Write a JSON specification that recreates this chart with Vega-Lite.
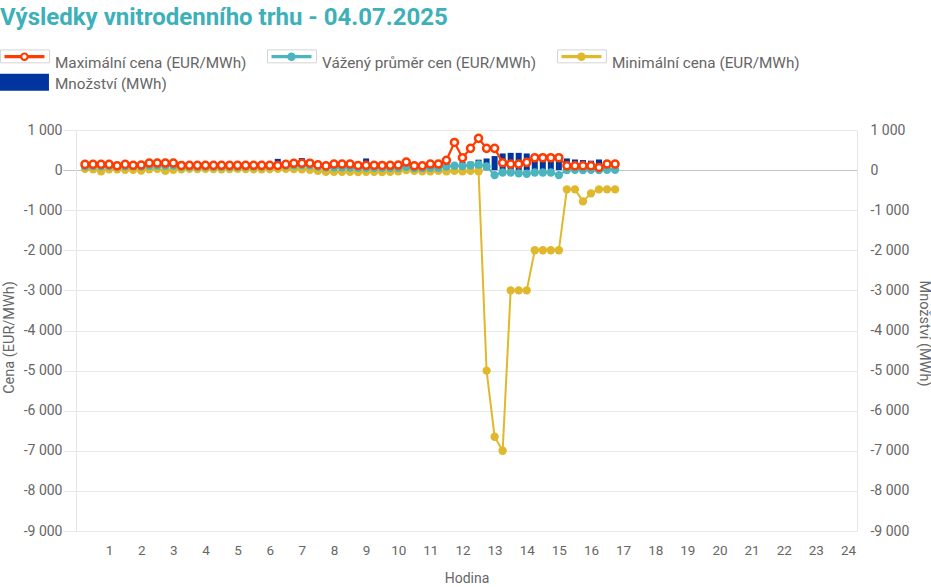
{
  "$schema": "https://vega.github.io/schema/vega-lite/v6.json",
  "width": 781,
  "height": 401,
  "autosize": {"type": "none"},
  "padding": {"left": 76, "top": 130, "right": 74, "bottom": 56},
  "background": "white",
  "title": {
    "text": "Výsledky vnitrodenního trhu - 04.07.2025",
    "anchor": "start",
    "frame": "group",
    "dx": -76,
    "offset": 24,
    "font": "Roboto",
    "fontSize": 24,
    "fontWeight": "bold",
    "color": "#3db0b9"
  },
  "config": {"view": {"stroke": null}},
  "data": {
    "values": [
      {"q": 1, "max": 142, "prumer": 95, "min": 30, "mnozstvi": 90},
      {"q": 2, "max": 145, "prumer": 100, "min": 20, "mnozstvi": 95},
      {"q": 3, "max": 145, "prumer": 95, "min": -30, "mnozstvi": 100},
      {"q": 4, "max": 142, "prumer": 100, "min": 20, "mnozstvi": 95},
      {"q": 5, "max": 108, "prumer": 90, "min": 20, "mnozstvi": 85},
      {"q": 6, "max": 142, "prumer": 95, "min": 10, "mnozstvi": 90},
      {"q": 7, "max": 120, "prumer": 95, "min": 10, "mnozstvi": 95},
      {"q": 8, "max": 125, "prumer": 90, "min": -10, "mnozstvi": 90},
      {"q": 9, "max": 175, "prumer": 110, "min": 20, "mnozstvi": 110},
      {"q": 10, "max": 175, "prumer": 115, "min": 30, "mnozstvi": 115},
      {"q": 11, "max": 175, "prumer": 110, "min": -20, "mnozstvi": 110},
      {"q": 12, "max": 175, "prumer": 115, "min": 10, "mnozstvi": 105},
      {"q": 13, "max": 115, "prumer": 85, "min": 20, "mnozstvi": 80},
      {"q": 14, "max": 120, "prumer": 85, "min": 30, "mnozstvi": 85},
      {"q": 15, "max": 118, "prumer": 85, "min": 25, "mnozstvi": 80},
      {"q": 16, "max": 120, "prumer": 90, "min": 30, "mnozstvi": 85},
      {"q": 17, "max": 118, "prumer": 85, "min": 25, "mnozstvi": 80},
      {"q": 18, "max": 120, "prumer": 85, "min": 20, "mnozstvi": 85},
      {"q": 19, "max": 118, "prumer": 85, "min": 25, "mnozstvi": 90},
      {"q": 20, "max": 118, "prumer": 85, "min": 30, "mnozstvi": 95},
      {"q": 21, "max": 120, "prumer": 90, "min": 25, "mnozstvi": 100},
      {"q": 22, "max": 120, "prumer": 90, "min": 20, "mnozstvi": 110},
      {"q": 23, "max": 118, "prumer": 90, "min": 20, "mnozstvi": 120},
      {"q": 24, "max": 120, "prumer": 95, "min": 25, "mnozstvi": 130},
      {"q": 25, "max": 115, "prumer": 100, "min": 30, "mnozstvi": 280},
      {"q": 26, "max": 142, "prumer": 110, "min": 30, "mnozstvi": 160},
      {"q": 27, "max": 170, "prumer": 120, "min": 25, "mnozstvi": 150},
      {"q": 28, "max": 172, "prumer": 125, "min": 20, "mnozstvi": 300},
      {"q": 29, "max": 172, "prumer": 120, "min": 10, "mnozstvi": 160},
      {"q": 30, "max": 130, "prumer": 90, "min": -20, "mnozstvi": 150},
      {"q": 31, "max": 105, "prumer": 70, "min": -45, "mnozstvi": 140},
      {"q": 32, "max": 150, "prumer": 70, "min": -40, "mnozstvi": 150},
      {"q": 33, "max": 150, "prumer": 70, "min": -40, "mnozstvi": 145},
      {"q": 34, "max": 150, "prumer": 65, "min": -40, "mnozstvi": 140},
      {"q": 35, "max": 115, "prumer": 60, "min": -50, "mnozstvi": 130},
      {"q": 36, "max": 120, "prumer": 60, "min": -40, "mnozstvi": 290},
      {"q": 37, "max": 120, "prumer": 55, "min": -40, "mnozstvi": 130},
      {"q": 38, "max": 115, "prumer": 55, "min": -50, "mnozstvi": 120},
      {"q": 39, "max": 120, "prumer": 55, "min": -40, "mnozstvi": 120},
      {"q": 40, "max": 125, "prumer": 60, "min": -30, "mnozstvi": 125},
      {"q": 41, "max": 200, "prumer": 80, "min": 0, "mnozstvi": 140},
      {"q": 42, "max": 108, "prumer": 50, "min": -20, "mnozstvi": 110},
      {"q": 43, "max": 108, "prumer": 50, "min": -30, "mnozstvi": 110},
      {"q": 44, "max": 150, "prumer": 60, "min": -30, "mnozstvi": 120},
      {"q": 45, "max": 150, "prumer": 60, "min": -20, "mnozstvi": 140},
      {"q": 46, "max": 245, "prumer": 90, "min": -30, "mnozstvi": 160},
      {"q": 47, "max": 690, "prumer": 110, "min": -20, "mnozstvi": 180},
      {"q": 48, "max": 308, "prumer": 100, "min": -30, "mnozstvi": 200},
      {"q": 49, "max": 542, "prumer": 120, "min": -20, "mnozstvi": 210},
      {"q": 50, "max": 792, "prumer": 140, "min": -30, "mnozstvi": 260},
      {"q": 51, "max": 542, "prumer": 90, "min": -5000, "mnozstvi": 290},
      {"q": 52, "max": 542, "prumer": -125, "min": -6650, "mnozstvi": 350},
      {"q": 53, "max": 183, "prumer": -60, "min": -7000, "mnozstvi": 415},
      {"q": 54, "max": 150, "prumer": -60, "min": -3000, "mnozstvi": 430},
      {"q": 55, "max": 150, "prumer": -80, "min": -3000, "mnozstvi": 430},
      {"q": 56, "max": 192, "prumer": -90, "min": -3000, "mnozstvi": 415},
      {"q": 57, "max": 308, "prumer": -60, "min": -2000, "mnozstvi": 400},
      {"q": 58, "max": 308, "prumer": -60, "min": -2000, "mnozstvi": 400},
      {"q": 59, "max": 308, "prumer": -60, "min": -2000, "mnozstvi": 395},
      {"q": 60, "max": 308, "prumer": -125, "min": -2000, "mnozstvi": 390},
      {"q": 61, "max": 108, "prumer": 0, "min": -480, "mnozstvi": 290},
      {"q": 62, "max": 108, "prumer": 10, "min": -480, "mnozstvi": 265},
      {"q": 63, "max": 108, "prumer": 0, "min": -780, "mnozstvi": 250},
      {"q": 64, "max": 108, "prumer": 10, "min": -580, "mnozstvi": 235},
      {"q": 65, "max": 67, "prumer": 0, "min": -480, "mnozstvi": 265},
      {"q": 66, "max": 150, "prumer": 10, "min": -480, "mnozstvi": 235},
      {"q": 67, "max": 150, "prumer": 10, "min": -480, "mnozstvi": 120}
    ]
  },
  "transform": [
    {"fold": ["max", "prumer", "min", "mnozstvi"], "as": ["rada", "hodnota"]}
  ],
  "encoding": {
    "x": {
      "field": "q",
      "type": "quantitative",
      "scale": {"domain": [0.5, 96.5], "nice": false, "zero": false},
      "axis": {
        "title": "Hodina",
        "values": [4, 8, 12, 16, 20, 24, 28, 32, 36, 40, 44, 48, 52, 56, 60, 64, 68, 72, 76, 80, 84, 88, 92, 96],
        "labelExpr": "datum.value / 4",
        "ticks": false,
        "domain": false,
        "grid": false,
        "labelPadding": 12,
        "labelFont": "Roboto",
        "labelFontSize": 13.5,
        "labelColor": "#666666",
        "titleFont": "Roboto",
        "titleFontSize": 14,
        "titleFontWeight": "normal",
        "titleColor": "#666666",
        "titleY": 47,
        "titleBaseline": "middle"
      }
    },
    "color": {
      "field": "rada",
      "type": "nominal",
      "scale": {
        "domain": ["max", "prumer", "min", "mnozstvi"],
        "range": ["#fe3b00", "#4ab5bf", "#e0b82c", "#00359e"]
      },
      "legend": {
        "orient": "none",
        "legendX": -76,
        "legendY": -76,
        "direction": "horizontal",
        "columns": 3,
        "columnPadding": 20,
        "rowPadding": 2,
        "padding": 0,
        "title": null,
        "symbolSize": 289,
        "labelOffset": 38,
        "labelFont": "Roboto",
        "labelFontSize": 15.3,
        "labelColor": "#666666",
        "labelLimit": 400,
        "labelExpr": "datum.value === 'max' ? 'Maximální cena (EUR/MWh)' : datum.value === 'prumer' ? 'Vážený průměr cen (EUR/MWh)' : datum.value === 'min' ? 'Minimální cena (EUR/MWh)' : 'Množství (MWh)'",
        "encode": {
          "symbols": {
            "update": {
              "shape": {"signal": "datum.value === 'mnozstvi' ? 'M-1,-1.15H4.76V0.85H-1Z' : datum.value === 'max' ? 'M-0.47,-0.88H1.43V-0.52H-0.47Z M2.33,-0.88H4.23V-0.52H2.33Z M2.38,-0.7A0.5,0.5 0 1,1 1.38,-0.7A0.5,0.5 0 1,1 2.38,-0.7Z M2.13,-0.7A0.25,0.25 0 1,0 1.63,-0.7A0.25,0.25 0 1,0 2.13,-0.7Z' : 'M-0.47,-0.88H4.23V-0.52H-0.47Z M2.38,-0.7A0.5,0.5 0 1,1 1.38,-0.7A0.5,0.5 0 1,1 2.38,-0.7Z'"},
              "size": {"value": 289},
              "fill": {"signal": "datum.value === 'max' ? '#fe3b00' : datum.value === 'prumer' ? '#4ab5bf' : datum.value === 'min' ? '#e0b82c' : '#00359e'"},
              "strokeWidth": {"value": 0},
              "opacity": {"value": 1}
            }
          }
        }
      }
    },
    "opacity": {
      "field": "rada",
      "type": "nominal",
      "scale": {"domain": ["max", "prumer", "min", "mnozstvi", "_"], "range": [1, 1]},
      "legend": {
        "values": ["max"],
        "orient": "none",
        "legendX": -76,
        "legendY": -76,
        "padding": 0,
        "title": null,
        "symbolSize": 289,
        "labelFontSize": 15.3,
        "labelExpr": "''",
        "encode": {
          "symbols": {
            "update": {
              "shape": {"value": "M-1,-1.54H4.76V-0.02H-1Z M30.41,-1.54H36.18V-0.02H30.41Z M64.53,-1.54H70.29V-0.02H64.53Z"},
              "size": {"value": 289},
              "fill": {"value": "transparent"},
              "stroke": {"value": "#d4d4d4"},
              "strokeWidth": {"value": 1}
            }
          }
        }
      }
    }
  },
  "layer": [
    {
      "transform": [{"filter": "datum.rada === 'mnozstvi'"}],
      "mark": {"type": "bar", "width": 6},
      "encoding": {
        "y": {
          "field": "hodnota",
          "type": "quantitative",
          "scale": {"domain": [-9000, 1000], "nice": false, "zero": false},
          "axis": {
            "orient": "right",
            "title": "Množství (MWh)",
            "values": [-9000, -8000, -7000, -6000, -5000, -4000, -3000, -2000, -1000, 0, 1000],
            "labelExpr": "replace(replace(format(datum.value, ','), ',', ' '), '−', '-')",
            "grid": false,
            "ticks": false,
            "domainColor": "#e6e6e6",
            "labelPadding": 13,
            "labelFont": "Roboto",
            "labelFontSize": 14,
            "labelColor": "#666666",
            "titleFont": "Roboto",
            "titleFontSize": 14.5,
            "titleFontWeight": "normal",
            "titleColor": "#666666",
            "titleAngle": 90,
            "titleX": 66,
            "titleY": 203,
            "titleBaseline": "middle"
          }
        }
      }
    },
    {
      "encoding": {
        "y": {
          "field": "hodnota",
          "type": "quantitative",
          "scale": {"domain": [-9000, 1000], "nice": false, "zero": false},
          "axis": {
            "orient": "left",
            "title": "Cena (EUR/MWh)",
            "values": [-9000, -8000, -7000, -6000, -5000, -4000, -3000, -2000, -1000, 0, 1000],
            "labelExpr": "replace(replace(format(datum.value, ','), ',', ' '), '−', '-')",
            "grid": true,
            "gridColor": {"condition": {"test": "datum.value === 0", "value": "#c4c4c4"}, "value": "#e8e8e8"},
            "tickColor": {"condition": {"test": "datum.value === 0", "value": "#c4c4c4"}, "value": "#e8e8e8"},
            "tickSize": 13,
            "domainColor": "#e6e6e6",
            "labelPadding": 1,
            "labelFont": "Roboto",
            "labelFontSize": 14,
            "labelColor": "#666666",
            "titleFont": "Roboto",
            "titleFontSize": 14.5,
            "titleFontWeight": "normal",
            "titleColor": "#666666",
            "titleAngle": -90,
            "titleX": -67,
            "titleY": 207,
            "titleBaseline": "middle"
          }
        }
      },
      "layer": [
        {
          "transform": [{"filter": "datum.rada === 'min'"}],
          "mark": {"type": "line", "strokeWidth": 2, "point": {"filled": true, "size": 70, "opacity": 1}}
        },
        {
          "transform": [{"filter": "datum.rada === 'prumer'"}],
          "mark": {"type": "line", "strokeWidth": 2, "point": {"filled": true, "size": 70, "opacity": 1}}
        },
        {
          "transform": [{"filter": "datum.rada === 'max'"}],
          "mark": {"type": "line", "strokeWidth": 2.2, "point": {"filled": false, "fill": "#ffffff", "size": 50, "strokeWidth": 2.5, "opacity": 1}}
        }
      ]
    }
  ],
  "resolve": {"scale": {"y": "independent"}}
}
